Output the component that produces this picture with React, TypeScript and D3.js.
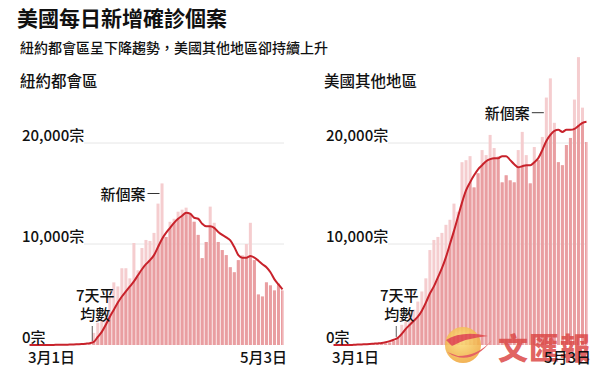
import React from "react";
import * as d3 from "d3";

const FONT = "'Noto Sans CJK TC', 'Noto Sans', sans-serif";

// day index 0 = 3月1日 ... 63 = 5月3日
const days = d3.range(64);
const xLabels = ["3月1日", "5月3日"];
const yTicks = [0, 10000, 20000];
const yTickLabels = ["0宗", "10,000宗", "20,000宗"];

// 紐約都會區 daily new cases
const nycDaily = [
  0, 0, 0, 0, 0, 0, 0, 0, 0, 0, 0, 0, 10, 20, 40, 60,
  1200, 2200, 2500, 2800, 4700, 6200, 5800, 7600, 7600, 6600, 10100, 7400, 9600, 10400, 10300, 11100,
  14000, 16000, 10700, 12200, 12500, 13200, 13400, 13600, 13000, 12200, 10900, 8600, 10200, 13700, 12100, 10200,
  9400, 8900, 7700, 7200, 8400, 8900, 10000, 12100, 8400, 5000, 4800, 6200, 5900, 5400, 6100, 5400,
];
// 紐約都會區 7-day average
const nycAvg = [
  0, 0, 0, 0, 0, 10, 10, 20, 20, 30, 40, 50, 70, 90, 130, 180,
  300, 800, 1300, 2000, 2800, 3500, 4200, 4800, 5300, 5800, 6300, 6900, 7500, 8000, 8400, 8900,
  9700, 10500, 11100, 11600, 12100, 12500, 12800, 13100, 13000, 12600, 12500, 12000, 11750, 11750, 11600, 11200,
  10900, 10650, 10350, 9700, 8900, 8650, 8650, 8800, 8650, 8350, 8000, 7700, 7200, 6500, 6000, 5500,
];

// 美國其他地區 daily new cases
const usDaily = [
  0, 0, 0, 0, 0, 0, 0, 0, 0, 0, 50, 80, 100, 150, 250, 400,
  700, 2000, 2300, 3200, 3500, 4300, 5300, 6600, 9400, 10400, 10700, 11100, 11900, 12400, 14000, 13200,
  18100, 18300, 18700, 15600, 17000, 19300, 18800, 20800, 19500, 18700, 16100, 16800, 16300, 16100, 19300, 21100,
  18800, 16000, 19600, 18300, 20600, 24500, 26400, 22000, 18100, 17800, 19800, 20500, 24300, 28500, 23500, 20100,
];
// 美國其他地區 7-day average
const usAvg = [
  0, 0, 0, 0, 0, 20, 40, 60, 80, 100, 130, 160, 200, 280, 380, 520,
  700, 1100, 1600, 2000, 2400, 2800, 3400, 4200, 5100, 5800, 6700, 7600, 8700, 10000, 11300, 12700,
  14100, 15300, 16100, 16800, 17400, 17800, 18200, 18400, 18500, 18500, 18700, 18700, 18300, 17900, 17600, 17700,
  17800, 17800, 18100, 18500, 19300, 20200, 20800, 21200, 21300, 21100, 21300, 21300, 21400, 21700, 22000, 22100,
];

const LIGHT = "#f5cdcf";
const DARK = "#e99ea1";
const RED = "#c8222b";

const y = d3.scaleLinear().domain([0, 20000]).range([345, 143]);

type PanelProps = {
  id: string;
  title: string;
  daily: number[];
  avg: number[];
  x0: number;
  x1: number;
  noteBar: number;
  noteLevel: number;
  layer: "marks" | "labels";
};

const Panel = ({ id, title, daily, avg, x0, x1, noteBar, noteLevel, layer }: PanelProps) => {
  const x = d3.scaleBand<number>().domain(days).range([x0, x1]).paddingInner(0.25).paddingOuter(0);
  const cx = (i: number) => (x(i) as number) + x.bandwidth() / 2;

  const line = d3
    .line<number>()
    .x((_, i) => cx(i))
    .y((d) => y(d))
    .curve(d3.curveMonotoneX);
  const area = d3
    .area<number>()
    .x((_, i) => cx(i))
    .y0(y(0))
    .y1((d) => y(d))
    .curve(d3.curveMonotoneX);

  const labelX = x0 - 6;
  const tickX = x(16) as number;
  const noteX = x(noteBar) as number;
  const noteY = y(noteLevel);

  const bars = (fill: string) =>
    daily.map((d, i) => (
      <rect key={i} x={x(i)} y={y(d)} width={x.bandwidth()} height={y(0) - y(d)} fill={fill} />
    ));

  if (layer === "labels") {
    // axis dates sit above the watermark
    return (
      <g fontFamily={FONT} fill="#111" fontWeight={500}>
        <text x={x0} y={363} fontSize={15}>
          {xLabels[0]}
        </text>
        <text x={x1 + 3} y={363} fontSize={15} textAnchor="end">
          {xLabels[1]}
        </text>
      </g>
    );
  }

  return (
    <g fontFamily={FONT} fill="#111" fontWeight={500}>
      <defs>
        <clipPath id={`clip-${id}`}>
          <path d={area(avg) || ""} />
        </clipPath>
      </defs>
      <text x={labelX - 2} y={87} fontSize={15.5}>
        {title}
      </text>

      {yTicks.slice(1).map((t) => (
        <line key={t} x1={labelX + 62} x2={x1} y1={y(t)} y2={y(t)} stroke="#e6e6e6" strokeWidth={1} />
      ))}

      <g>{bars(LIGHT)}</g>
      <g clipPath={`url(#clip-${id})`}>{bars(DARK)}</g>
      <path d={line(avg) || ""} fill="none" stroke={RED} strokeWidth={2} strokeLinejoin="round" />

      {yTicks.map((t, k) => (
        <text key={t} x={labelX} y={y(t) - 2} fontSize={15}>
          {yTickLabels[k]}
        </text>
      ))}

      {/* 7-day average note */}
      <text x={tickX + 3} y={301} fontSize={15} textAnchor="middle">
        7天平
      </text>
      <text x={tickX + 3} y={320} fontSize={15} textAnchor="middle">
        均數
      </text>
      <line x1={tickX} x2={tickX} y1={326} y2={y(avg[16]) - 1} stroke="#333" strokeWidth={0.8} />

      {/* new cases note */}
      <text x={noteX - 15} y={noteY + 6} fontSize={15} textAnchor="end">
        新個案
      </text>
      <line x1={noteX - 13} x2={noteX - 1} y1={noteY} y2={noteY} stroke="#333" strokeWidth={1} />
    </g>
  );
};

const Watermark = () => (
  <g opacity={0.85}>
    <defs>
      <radialGradient id="wm-sun" cx="45%" cy="35%" r="65%">
        <stop offset="0%" stopColor="#fbe27a" />
        <stop offset="100%" stopColor="#f0a63a" />
      </radialGradient>
    </defs>
    <circle cx={463} cy={345} r={18} fill="url(#wm-sun)" />
    <path d="M447 352 Q470 368 492 340 Q478 356 458 356 Z" fill="#e0474a" />
    <path d="M446 340 Q462 330 488 336 Q466 338 452 346 Z" fill="#e0474a" />
    <text x={498} y={359} fontSize={30} fontWeight={900} fill="#dc4a48" fontFamily={FONT} letterSpacing={1}>
      文匯報
    </text>
  </g>
);

export default function App() {
  const panels = [
    { id: "nyc", title: "紐約都會區", daily: nycDaily, avg: nycAvg, x0: 28, x1: 284, noteBar: 33, noteLevel: 15000 },
    { id: "us", title: "美國其他地區", daily: usDaily, avg: usAvg, x0: 332, x1: 588, noteBar: 53, noteLevel: 23000 },
  ];
  return (
    <svg
      width={600}
      height={374}
      viewBox="0 0 600 374"
      style={{ position: "absolute", left: 0, top: 0, background: "#fff" }}
    >
      <rect width={600} height={374} fill="#fff" />
      <text x={17} y={26} fontSize={21} fontWeight={700} fontFamily={FONT} fill="#111">
        美國每日新增確診個案
      </text>
      <text x={20} y={53} fontSize={14} fontWeight={500} fontFamily={FONT} fill="#111">
        紐約都會區呈下降趨勢，美國其他地區卻持續上升
      </text>

      {panels.map((p) => (
        <Panel key={p.id} {...p} layer="marks" />
      ))}
      <Watermark />
      {panels.map((p) => (
        <Panel key={p.id + "-l"} {...p} layer="labels" />
      ))}
    </svg>
  );
}
